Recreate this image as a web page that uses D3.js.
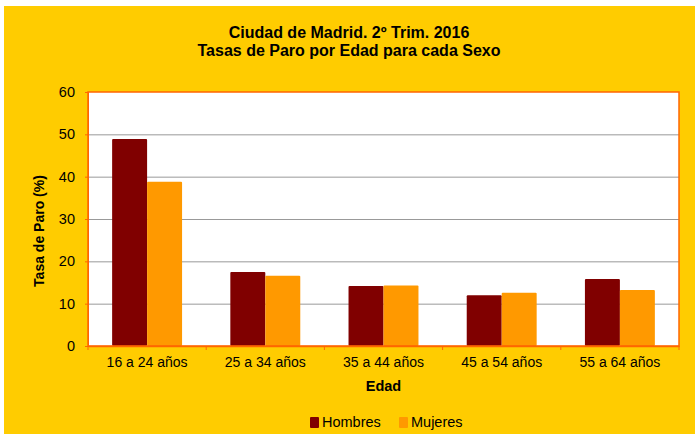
<!DOCTYPE html>
<html>
<head>
<meta charset="utf-8">
<script src="https://cdn.jsdelivr.net/npm/d3@7"></script>
<style>
  body { margin: 0; background: #fff; }
  text { font-family: "Liberation Sans", Arial, sans-serif; fill: #000; }
</style>
</head>
<body>
<div id="chart"></div>
<script>
// datos
var grupos = ["16 a 24 años", "25 a 34 años", "35 a 44 años", "45 a 54 años", "55 a 64 años"];
var hombres = [48.9, 17.5, 14.2, 12.0, 15.8];
var mujeres = [38.8, 16.6, 14.3, 12.6, 13.2];
var series = ["Hombres", "Mujeres"];
var yTicks = [0, 10, 20, 30, 40, 50, 60];

var W = 695, H = 434;
var margin = {top: 92, right: 16, bottom: 88, left: 88};
var width = W - margin.left - margin.right,
    height = H - margin.top - margin.bottom;

var colores = {Hombres: "#800000", Mujeres: "#ff9900"};

var svg = d3.select("#chart").append("svg")
    .attr("width", W).attr("height", H);

// fondo
svg.append("rect").attr("x", 4).attr("y", 6)
    .attr("width", W - 4).attr("height", H - 6)
    .attr("fill", "#ffcc00");

svg.append("text").attr("x", 349).attr("y", 38)
    .attr("text-anchor", "middle").style("font-weight", "bold").style("font-size", "16px")
    .text("Ciudad de Madrid. 2º Trim. 2016");
svg.append("text").attr("x", 349).attr("y", 56)
    .attr("text-anchor", "middle").style("font-weight", "bold").style("font-size", "16px")
    .text("Tasas de Paro por Edad para cada Sexo");

var g = svg.append("g")
    .attr("transform", "translate(" + margin.left + "," + margin.top + ")");

var x0 = d3.scaleBand().domain(grupos).range([0, width]).paddingInner(0).paddingOuter(0);
var x1 = d3.scaleBand().domain(series).range([0, x0.bandwidth()]).paddingInner(0).paddingOuter(0.69);
var y = d3.scaleLinear().domain([0, 60]).range([height, 0]);

g.append("rect").attr("width", width).attr("height", height).attr("fill", "#fff");

// lineas de cuadricula
g.append("g")
    .call(d3.axisLeft(y).tickValues(yTicks.slice(1, -1)).tickSize(-width).tickFormat(""))
    .call(function(s) { s.select(".domain").remove(); })
    .selectAll("line").attr("stroke", "#999").attr("stroke-width", 1);

var datos = grupos.map(function(d, i) {
    return {grupo: d, valores: [{s: "Hombres", v: hombres[i]}, {s: "Mujeres", v: mujeres[i]}]};
});

g.append("g").selectAll("g")
    .data(datos)
    .enter().append("g")
    .attr("transform", function(d) { return "translate(" + x0(d.grupo) + ",0)"; })
    .selectAll("rect")
    .data(function(d) { return d.valores; })
    .enter().append("rect")
    .attr("x", function(d) { return x1(d.s); })
    .attr("width", x1.bandwidth())
    .attr("y", function(d) { return y(d.v); })
    .attr("height", function(d) { return height - y(d.v); })
    .attr("rx", 1)
    .attr("fill", function(d) { return colores[d.s]; });

// borde del area
g.append("rect").attr("width", width).attr("height", height)
    .attr("fill", "none").attr("stroke", "#ff6600").attr("stroke-width", 1.5);

// eje Y
var ejeY = g.append("g")
    .call(d3.axisLeft(y).tickValues(yTicks).tickSize(3).tickPadding(10));
ejeY.select(".domain").attr("stroke", "#ff6600");
ejeY.selectAll("line").attr("stroke", "#ff6600");
ejeY.selectAll("text").style("font-size", "14.5px");

// eje X
var ejeX = g.append("g").attr("transform", "translate(0," + height + ")")
    .call(d3.axisBottom(x0).tickSize(0).tickPadding(11));
ejeX.select(".domain").attr("stroke", "#ff6600").attr("stroke-width", 1.5);
ejeX.selectAll("text").style("font-size", "14px");
ejeX.selectAll(".sep")
    .data(d3.range(grupos.length + 1))
    .enter().append("line")
    .attr("x1", function(i) { return i * x0.step(); })
    .attr("x2", function(i) { return i * x0.step(); })
    .attr("y1", 0).attr("y2", 4)
    .attr("stroke", "#ff6600");

svg.append("text").attr("x", margin.left + width / 2).attr("y", 391)
    .attr("text-anchor", "middle").style("font-weight", "bold").style("font-size", "14.5px")
    .text("Edad");

svg.append("text")
    .attr("transform", "translate(44,231) rotate(-90)")
    .attr("text-anchor", "middle").style("font-weight", "bold").style("font-size", "14px")
    .text("Tasa de Paro (%)");

// leyenda
var leyenda = svg.append("g").selectAll("g")
    .data(series)
    .enter().append("g")
    .attr("transform", function(d, i) { return "translate(" + (310 + i * 89) + ",417)"; });
leyenda.append("rect").attr("width", 9).attr("height", 11).attr("rx", 1)
    .attr("fill", function(d) { return colores[d]; });
leyenda.append("text").attr("x", 12).attr("y", 10)
    .style("font-size", "14.5px")
    .text(function(d) { return d; });
</script>
</body>
</html>
